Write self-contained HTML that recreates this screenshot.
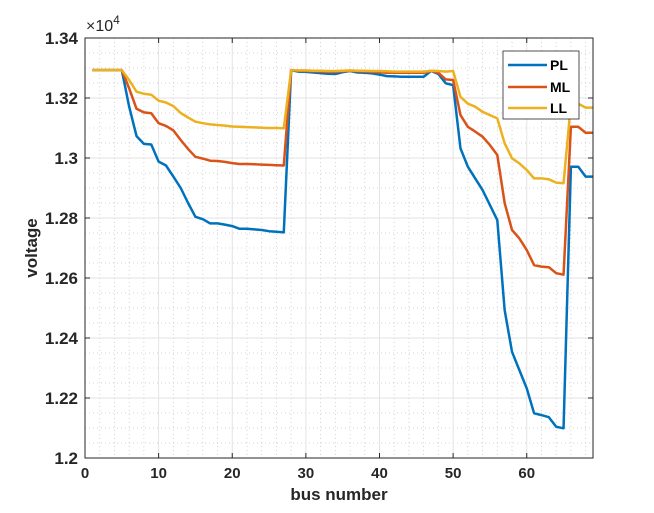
<!DOCTYPE html>
<html><head><meta charset="utf-8"><style>
body{margin:0;background:#fff;}
svg{display:block;font-family:"Liberation Sans",sans-serif;}
</style></head><body>
<svg id="chart" width="654" height="513">
<rect width="654" height="513" fill="#ffffff"/>
<g id="grid"></g>
<g id="series"></g>
<g id="axes"></g>
<text x="86" y="31" font-size="16" fill="#262626">×10<tspan dy="-7" font-size="12">4</tspan></text>
<text x="339" y="500" font-size="17" font-weight="bold" text-anchor="middle" fill="#262626">bus number</text>
<text transform="translate(37,248) rotate(-90)" font-size="17" font-weight="bold" text-anchor="middle" fill="#262626">voltage</text>
<g>
<rect x="503" y="51" width="76" height="68" fill="#fff" stroke="#262626" stroke-width="0.8"/>
<g><line x1="508" y1="65" x2="547" y2="65" stroke="#0072BD" stroke-width="2.5"/><text x="550" y="70" font-size="14" font-weight="bold" fill="#000">PL</text></g>
<g><line x1="508" y1="87" x2="547" y2="87" stroke="#D95319" stroke-width="2.5"/><text x="550" y="92" font-size="14" font-weight="bold" fill="#000">ML</text></g>
<g><line x1="508" y1="108" x2="547" y2="108" stroke="#EDB120" stroke-width="2.5"/><text x="550" y="113" font-size="14" font-weight="bold" fill="#000">LL</text></g>
</g>
</svg>
<script>
const buses = [];
for (let i = 1; i <= 69; i++) buses.push(i);
const plValues = [1.3293,1.3293,1.3293,1.3293,1.3293,1.3171,1.3073,1.3047,1.3045,1.2988,1.2975,1.2938,1.2900,1.2850,1.2804,1.2796,1.2782,1.2782,1.2778,1.2773,1.2764,1.2764,1.2762,1.2760,1.2756,1.2754,1.2752,1.3293,1.3288,1.3287,1.3285,1.3283,1.3281,1.3280,1.3286,1.3290,1.3285,1.3284,1.3282,1.3278,1.3273,1.3272,1.3271,1.3271,1.3271,1.3271,1.3290,1.3280,1.3249,1.3243,1.3032,1.2971,1.2932,1.2893,1.2843,1.2793,1.2493,1.2354,1.2293,1.2232,1.2149,1.2143,1.2136,1.2104,1.2099,1.2971,1.2971,1.2938,1.2938];
const mlValues = [1.3293,1.3293,1.3293,1.3293,1.3293,1.3232,1.3164,1.3152,1.3149,1.3116,1.3107,1.3092,1.3060,1.3030,1.3004,1.2998,1.2991,1.2990,1.2987,1.2983,1.2980,1.2980,1.2979,1.2978,1.2977,1.2976,1.2975,1.3293,1.3291,1.3290,1.3289,1.3288,1.3287,1.3287,1.3289,1.3291,1.3289,1.3288,1.3287,1.3286,1.3284,1.3284,1.3284,1.3284,1.3284,1.3284,1.3290,1.3284,1.3262,1.3260,1.3143,1.3104,1.3088,1.3071,1.3043,1.3010,1.2850,1.2760,1.2732,1.2693,1.2643,1.2638,1.2636,1.2616,1.2611,1.3104,1.3104,1.3084,1.3084];
const llValues = [1.3293,1.3293,1.3293,1.3293,1.3293,1.3260,1.3221,1.3214,1.3211,1.3191,1.3185,1.3173,1.3150,1.3135,1.3121,1.3116,1.3112,1.3110,1.3108,1.3105,1.3104,1.3103,1.3102,1.3101,1.3100,1.3100,1.3099,1.3293,1.3292,1.3292,1.3291,1.3291,1.3290,1.3290,1.3291,1.3292,1.3291,1.3291,1.3290,1.3290,1.3289,1.3288,1.3288,1.3288,1.3288,1.3288,1.3291,1.3290,1.3288,1.3290,1.3204,1.3181,1.3171,1.3154,1.3143,1.3132,1.3049,1.2999,1.2982,1.2960,1.2932,1.2932,1.2929,1.2918,1.2916,1.3181,1.3181,1.3168,1.3168];
const xTicks = [0,10,20,30,40,50,60];
const yTicks = [1.2,1.22,1.24,1.26,1.28,1.3,1.32,1.34];
const yTickLabels = ["1.2","1.22","1.24","1.26","1.28","1.3","1.32","1.34"];

const L=85,R=593,T=38,B=458, X0=0,X1=69, Y0=1.2,Y1=1.34;
const sx=v=>L+(v-X0)/(X1-X0)*(R-L);
const sy=v=>B-(v-Y0)/(Y1-Y0)*(B-T);
const NS='http://www.w3.org/2000/svg';
function mk(tag,attrs,parent){const e=document.createElementNS(NS,tag);for(const k in attrs)e.setAttribute(k,attrs[k]);parent.appendChild(e);return e;}
const grid=document.getElementById('grid'), axes=document.getElementById('axes'), series=document.getElementById('series');
mk('rect',{x:L,y:T,width:R-L,height:B-T,fill:'#fff'},grid);
for(let v=2;v<X1;v+=2){ if(v%10===0)continue;
 const l=mk('line',{x1:sx(v),x2:sx(v),y1:T,y2:B,stroke:'#c8c8c8','stroke-width':0.8,'stroke-dasharray':'1,3'},grid);
 
 }
for(let i=1;i<28;i++){const v=Y0+i*0.005; if(i%4===0)continue;
 const l=mk('line',{x1:L,x2:R,y1:sy(v),y2:sy(v),stroke:'#c8c8c8','stroke-width':0.8,'stroke-dasharray':'1,3'},grid);
 
 }
xTicks.forEach(v=>{
 const l=mk('line',{x1:sx(v),x2:sx(v),y1:T,y2:B,stroke:'#e3e3e3','stroke-width':1},grid);
 
 
 mk('line',{x1:sx(v),x2:sx(v),y1:B,y2:B-5,stroke:'#262626'},axes);
 mk('line',{x1:sx(v),x2:sx(v),y1:T,y2:T+5,stroke:'#262626'},axes);
 const t=mk('text',{x:sx(v),y:B+20,'font-size':15,'font-weight':'bold','text-anchor':'middle',fill:'#262626'},axes);
 t.textContent=v;
 
 });
yTicks.forEach((v,i)=>{
 const l=mk('line',{x1:L,x2:R,y1:sy(v),y2:sy(v),stroke:'#e3e3e3','stroke-width':1},grid);
 
 
 mk('line',{x1:L,x2:L+5,y1:sy(v),y2:sy(v),stroke:'#262626'},axes);
 mk('line',{x1:R,x2:R-5,y1:sy(v),y2:sy(v),stroke:'#262626'},axes);
 const t=mk('text',{x:L-7,y:sy(v)+6,'font-size':17,'font-weight':'bold','text-anchor':'end',fill:'#262626'},axes);
 t.textContent=yTickLabels[i];
 
 });
mk('rect',{x:L,y:T,width:R-L,height:B-T,fill:'none',stroke:'#262626','stroke-width':1},axes);
[[plValues,'#0072BD','pl'],[mlValues,'#D95319','ml'],[llValues,'#EDB120','ll']].forEach(([vals,c,n])=>{
 const d=vals.map((v,i)=>(i?'L':'M')+sx(buses[i]).toFixed(2)+','+sy(v).toFixed(2)).join('');
 const p=mk('path',{d:d,fill:'none',stroke:c,'stroke-width':2.5,'stroke-linejoin':'round'},series);
 
 });
</script>
</body></html>
